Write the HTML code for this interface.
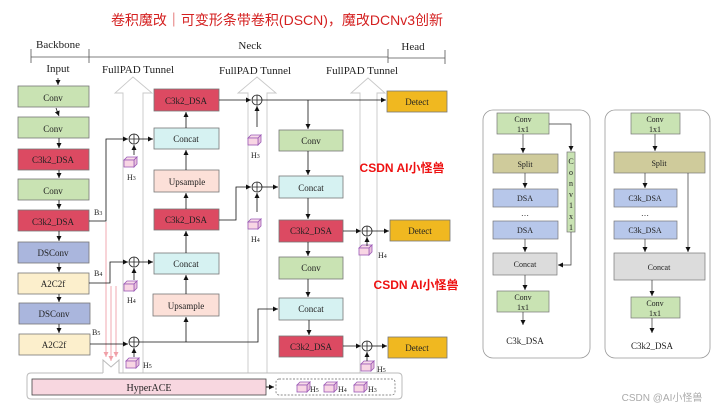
<!DOCTYPE html>
<html><head><meta charset="utf-8"><style>
html,body{margin:0;padding:0;background:#fff;}
svg{display:block;}
text{font-family:"Liberation Serif","Noto Serif CJK SC",serif;fill:#222;}
.s{font-size:9px;text-anchor:middle;}
.cj{font-family:"Liberation Sans","Noto Sans CJK SC",sans-serif;}
</style></head><body>
<svg width="720" height="408" viewBox="0 0 720 408" xmlns="http://www.w3.org/2000/svg">
<defs>
<marker id="a" markerWidth="6" markerHeight="6" refX="5" refY="3" orient="auto" markerUnits="userSpaceOnUse"><path d="M0,0.5 L5,3 L0,5.5Z" fill="#111"/></marker>
<marker id="p" markerWidth="6" markerHeight="6" refX="5" refY="3" orient="auto" markerUnits="userSpaceOnUse"><path d="M0,0.5 L5,3 L0,5.5Z" fill="#f0a0a8"/></marker>
<g id="cube"><path d="M0,3 L3,0 L13,0 L10,3Z" fill="#f8dce8" stroke="#9b59b6" stroke-width="0.8"/><path d="M10,3 L13,0 L13,7 L10,10Z" fill="#e9c2dc" stroke="#9b59b6" stroke-width="0.8"/><rect x="0" y="3" width="10" height="7" fill="#f8d6e4" stroke="#9b59b6" stroke-width="0.8"/></g>
<g id="plus"><circle r="5" fill="#fff" stroke="#222" stroke-width="0.8"/><path d="M-5,0H5M0,-5V5" stroke="#222" stroke-width="0.8"/></g>
</defs>

<text x="277" y="25" class="cj" style="font-size:14px;fill:#d42020;text-anchor:middle">卷积魔改｜可变形条带卷积(DSCN)，魔改DCNv3创新</text>

<!-- header -->
<text x="58" y="48" style="font-size:11px;text-anchor:middle">Backbone</text>
<text x="250" y="49" style="font-size:11px;text-anchor:middle">Neck</text>
<text x="413" y="50" style="font-size:11px;text-anchor:middle">Head</text>
<g stroke="#555" stroke-width="0.8" fill="none">
<path d="M31,49V63M89,49V63M388,49V63M445,50V64"/>
<path d="M31,57H89M89,57H388M388,58H445"/>
</g>
<text x="58" y="72" style="font-size:11px;text-anchor:middle">Input</text>
<text x="138" y="73" style="font-size:11px;text-anchor:middle">FullPAD Tunnel</text>
<text x="255" y="74" style="font-size:11px;text-anchor:middle">FullPAD Tunnel</text>
<text x="362" y="74" style="font-size:11px;text-anchor:middle">FullPAD Tunnel</text>

<!-- tunnels -->
<g fill="none" stroke="#c8c8c8" stroke-width="0.9">
<path d="M123,373V93H115L133,77L152,93H143V373"/>
<path d="M248,373V93H238L257,77L276,93H267V373"/>
<path d="M360,373V93H351L368,78L385,93H377V373"/>
</g>

<!-- bottom box -->
<path d="M103,373V360L111,367L119,360V373H398Q402,373 402,377V395Q402,399 398,399H31Q27,399 27,395V377Q27,373 31,373H103" fill="#fff" stroke="#bbb" stroke-width="1"/>
<rect x="32" y="379" width="234" height="16" fill="#f8d7e0" stroke="#444" stroke-width="0.8"/>
<text x="149" y="391" style="font-size:10px;text-anchor:middle">HyperACE</text>
<rect x="276" y="379" width="119" height="16" rx="3" fill="#fff" stroke="#666" stroke-width="0.7" stroke-dasharray="2,1.5"/>
<path d="M266,387H274" stroke="#111" marker-end="url(#a)"/>
<use href="#cube" x="297" y="382"/><text x="310" y="392" style="font-size:8px">H<tspan font-size="6">5</tspan></text>
<use href="#cube" x="324" y="382"/><text x="338" y="392" style="font-size:8px">H<tspan font-size="6">4</tspan></text>
<use href="#cube" x="354" y="382"/><text x="368" y="392" style="font-size:8px">H<tspan font-size="6">3</tspan></text>

<!-- pink lines -->
<g stroke="#f0a0a8" stroke-width="0.9">
<path d="M106,222V357" marker-end="url(#p)"/><path d="M111,286V361" marker-end="url(#p)"/><path d="M116,286V357" marker-end="url(#p)"/>
</g>

<!-- backbone boxes -->
<g stroke="#777" stroke-width="0.8">
<rect x="18" y="86" width="71" height="21" fill="#c9e3b3"/>
<rect x="18" y="117" width="71" height="21" fill="#c9e3b3"/>
<rect x="18" y="149" width="71" height="21" fill="#dc4a62"/>
<rect x="18" y="179" width="71" height="21" fill="#c9e3b3"/>
<rect x="18" y="210" width="71" height="21" fill="#dc4a62"/>
<rect x="18" y="242" width="71" height="21" fill="#aab6dd"/>
<rect x="18" y="273" width="71" height="21" fill="#fcefcc"/>
<rect x="19" y="303" width="71" height="21" fill="#aab6dd"/>
<rect x="19" y="334" width="71" height="21" fill="#fcefcc"/>
</g>
<g class="s">
<text x="53" y="101" class="s">Conv</text><text x="53" y="132" class="s">Conv</text>
<text x="53" y="163" class="s">C3k2_DSA</text><text x="53" y="194" class="s">Conv</text>
<text x="53" y="225" class="s">C3k2_DSA</text><text x="53" y="256" class="s">DSConv</text>
<text x="53" y="287" class="s">A2C2f</text><text x="54" y="317" class="s">DSConv</text>
<text x="54" y="348" class="s">A2C2f</text>
</g>
<g stroke="#111" stroke-width="0.8" fill="none" marker-end="url(#a)">
<path d="M58,78V85"/><path d="M56,108L59,116"/><path d="M59,138V148"/><path d="M59,170V178"/><path d="M59,200V209"/><path d="M59,231V241"/><path d="M59,263V272"/><path d="M59,294V302"/><path d="M59,324V333"/>
</g>
<text x="94" y="215" style="font-size:8px">B<tspan font-size="6">3</tspan></text>
<text x="94" y="276" style="font-size:8px">B<tspan font-size="6">4</tspan></text>
<text x="92" y="335" style="font-size:8px">B<tspan font-size="6">5</tspan></text>

<!-- neck col1 -->
<g stroke="#777" stroke-width="0.8">
<rect x="154" y="89" width="65" height="22" fill="#dc4a62"/>
<rect x="154" y="128" width="65" height="21" fill="#d6f2f2"/>
<rect x="154" y="170" width="65" height="22" fill="#fce0d8"/>
<rect x="154" y="209" width="65" height="21" fill="#dc4a62"/>
<rect x="154" y="253" width="65" height="21" fill="#d6f2f2"/>
<rect x="153" y="294" width="66" height="22" fill="#fce0d8"/>
</g>
<text x="186" y="104" class="s">C3k2_DSA</text><text x="186" y="142" class="s">Concat</text>
<text x="187" y="185" class="s">Upsample</text><text x="186" y="223" class="s">C3k2_DSA</text>
<text x="186" y="267" class="s">Concat</text><text x="186" y="309" class="s">Upsample</text>

<!-- neck col2 -->
<g stroke="#777" stroke-width="0.8">
<rect x="279" y="130" width="64" height="21" fill="#c9e3b3"/>
<rect x="279" y="176" width="64" height="22" fill="#d6f2f2"/>
<rect x="279" y="220" width="64" height="22" fill="#dc4a62"/>
<rect x="279" y="257" width="64" height="22" fill="#c9e3b3"/>
<rect x="279" y="298" width="64" height="22" fill="#d6f2f2"/>
<rect x="279" y="336" width="64" height="21" fill="#dc4a62"/>
</g>
<text x="311" y="144" class="s">Conv</text><text x="311" y="191" class="s">Concat</text>
<text x="311" y="234" class="s">C3k2_DSA</text><text x="311" y="271" class="s">Conv</text>
<text x="311" y="312" class="s">Concat</text><text x="311" y="350" class="s">C3k2_DSA</text>

<!-- detect -->
<g stroke="#777" stroke-width="0.8" fill="#f0b820">
<rect x="387" y="91" width="60" height="21"/><rect x="390" y="220" width="60" height="21"/><rect x="388" y="337" width="59" height="21"/>
</g>
<text x="417" y="105" class="s">Detect</text><text x="420" y="234" class="s">Detect</text><text x="417" y="351" class="s">Detect</text>

<!-- plus & cubes -->
<use href="#plus" x="134" y="139"/><use href="#plus" x="134" y="262"/><use href="#plus" x="134" y="342"/>
<use href="#plus" x="257" y="100"/><use href="#plus" x="257" y="187"/>
<use href="#plus" x="367" y="231"/><use href="#plus" x="367" y="346"/>
<use href="#cube" x="124" y="157"/><text x="127" y="180" style="font-size:8px">H<tspan font-size="6">3</tspan></text>
<use href="#cube" x="124" y="281"/><text x="127" y="303" style="font-size:8px">H<tspan font-size="6">4</tspan></text>
<use href="#cube" x="126" y="358"/><text x="143" y="368" style="font-size:8px">H<tspan font-size="6">5</tspan></text>
<use href="#cube" x="248" y="135"/><text x="251" y="158" style="font-size:8px">H<tspan font-size="6">3</tspan></text>
<use href="#cube" x="248" y="219"/><text x="251" y="242" style="font-size:8px">H<tspan font-size="6">4</tspan></text>
<use href="#cube" x="359" y="245"/><text x="378" y="258" style="font-size:8px">H<tspan font-size="6">4</tspan></text>
<use href="#cube" x="361" y="361"/><text x="377" y="372" style="font-size:8px">H<tspan font-size="6">5</tspan></text>

<!-- connectors -->
<g stroke="#111" stroke-width="0.8" fill="none" marker-end="url(#a)">
<path d="M89,221H106V139H128"/><path d="M139,139H153"/><path d="M134,155V145"/>
<path d="M89,283H110V262H128"/><path d="M139,262H153"/><path d="M134,280V268"/>
<path d="M90,344H128"/><path d="M134,357V348"/>
<path d="M139,342H258V309H278"/><path d="M186,342V317"/>
<path d="M186,294V275"/><path d="M186,253V231"/><path d="M186,209V193"/><path d="M186,170V150"/><path d="M186,128V112"/>
<path d="M219,100H251"/><path d="M262,100H386"/><path d="M308,100V129"/><path d="M257,127V106"/>
<path d="M219,220H236V187H251"/><path d="M262,187H278"/><path d="M257,212V193"/>
<path d="M308,151V175"/><path d="M308,198V219"/><path d="M308,242V256"/><path d="M308,279V297"/><path d="M309,320V335"/>
<path d="M343,231H361"/><path d="M372,231H389"/><path d="M367,246V237"/>
<path d="M343,346H361"/><path d="M372,346H387"/><path d="M367,361V352"/>
</g>

<text x="402" y="172" class="cj" style="font-size:12px;font-weight:bold;fill:#ee1111;text-anchor:middle">CSDN AI小怪兽</text>
<text x="416" y="289" class="cj" style="font-size:12px;font-weight:bold;fill:#ee1111;text-anchor:middle">CSDN AI小怪兽</text>

<!-- right panels -->
<rect x="483" y="110" width="107" height="248" rx="10" fill="#fff" stroke="#999" stroke-width="0.8"/>
<rect x="605" y="110" width="105" height="248" rx="10" fill="#fff" stroke="#999" stroke-width="0.8"/>
<g stroke="#777" stroke-width="0.7">
<rect x="497" y="113" width="52" height="21" fill="#c9e3b3"/>
<rect x="493" y="154" width="65" height="19" fill="#cfcb9b"/>
<rect x="493" y="189" width="65" height="18" fill="#b7c7ea"/>
<rect x="493" y="221" width="65" height="18" fill="#b7c7ea"/>
<rect x="493" y="253" width="64" height="22" fill="#dcdcdc"/>
<rect x="497" y="291" width="52" height="21" fill="#c9e3b3"/>
<rect x="567" y="152" width="8" height="80" fill="#c9e3b3"/>
<rect x="631" y="113" width="49" height="21" fill="#c9e3b3"/>
<rect x="614" y="152" width="91" height="21" fill="#cfcb9b"/>
<rect x="614" y="189" width="63" height="18" fill="#b7c7ea"/>
<rect x="614" y="221" width="63" height="18" fill="#b7c7ea"/>
<rect x="614" y="253" width="91" height="27" fill="#dcdcdc"/>
<rect x="631" y="297" width="49" height="21" fill="#c9e3b3"/>
</g>
<g style="font-size:8px;text-anchor:middle">
<text x="523" y="122">Conv</text><text x="523" y="132">1x1</text>
<text x="525" y="167">Split</text><text x="525" y="201">DSA</text><text x="525" y="216">…</text><text x="525" y="233">DSA</text>
<text x="525" y="267">Concat</text><text x="523" y="300">Conv</text><text x="523" y="310">1x1</text>
<text x="525" y="344" style="font-size:9px">C3k_DSA</text>
<text x="571" y="164">C</text><text x="571" y="175">o</text><text x="571" y="186">n</text><text x="571" y="197">v</text><text x="571" y="208">1</text><text x="571" y="219">x</text><text x="571" y="230">1</text>
<text x="655" y="122">Conv</text><text x="655" y="132">1x1</text>
<text x="659" y="166">Split</text><text x="645" y="201">C3k_DSA</text><text x="645" y="216">…</text><text x="645" y="233">C3k_DSA</text>
<text x="659" y="270">Concat</text><text x="655" y="306">Conv</text><text x="655" y="316">1x1</text>
<text x="652" y="349" style="font-size:9px">C3k2_DSA</text>
</g>
<g stroke="#333" stroke-width="0.7" fill="none" marker-end="url(#a)">
<path d="M523,134V153"/><path d="M525,173V188"/><path d="M525,239V252"/><path d="M525,275V290"/><path d="M523,312V325"/>
<path d="M549,124H571V151"/><path d="M571,232V265H558"/>
<path d="M655,134V151"/><path d="M645,173V188"/><path d="M645,239V252"/><path d="M688,173V252"/><path d="M652,280V296"/><path d="M652,318V333"/>
</g>

<text x="662" y="401" class="cj" style="font-size:10px;fill:#aaa;text-anchor:middle">CSDN @AI小怪兽</text>
</svg>
</body></html>
